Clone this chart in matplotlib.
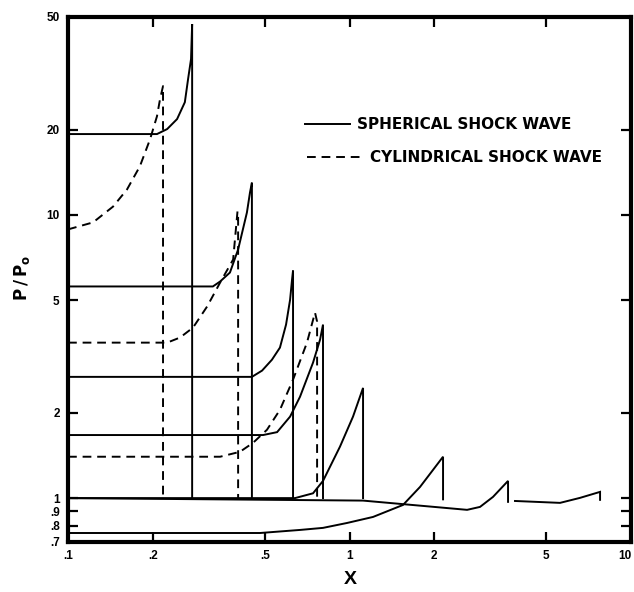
import matplotlib
matplotlib.use('Agg')
import matplotlib.pyplot as plt
from matplotlib.ticker import FixedLocator, FixedFormatter, NullLocator

#
# Spherical shock wave profiles  (X , P/Po)
sph1_x = [0.1, 0.207, 0.225, 0.244, 0.26, 0.267, 0.2735, 0.276, 0.276]
sph1_p = [19.3, 19.3, 20.1, 21.8, 25.0, 30.2, 35.5, 47.2, 1.0]

sph2_x = [0.1, 0.327, 0.347, 0.376, 0.402, 0.432, 0.443, 0.45, 0.45]
sph2_p = [5.59, 5.59, 5.82, 6.26, 7.55, 10.2, 12.0, 13.0, 1.0]

sph3_x = [0.1, 0.45, 0.489, 0.53, 0.566, 0.595, 0.615, 0.625, 0.63, 0.63]
sph3_p = [2.68, 2.68, 2.82, 3.08, 3.40, 4.10, 5.02, 5.92, 6.36, 1.0]

sph4_x = [0.1, 0.493, 0.553, 0.615, 0.667, 0.742, 0.786, 0.805, 0.805]
sph4_p = [1.67, 1.67, 1.71, 1.94, 2.28, 3.01, 3.63, 4.10, 1.0]

sph5_x = [0.1, 0.64, 0.742, 0.805, 0.925, 1.029, 1.117, 1.117]
sph5_p = [1.0, 1.0, 1.04, 1.15, 1.52, 1.94, 2.45, 1.0]

sph6_x = [0.1, 0.481, 0.667, 0.805, 0.98, 1.212, 1.549, 1.78, 1.98, 2.149, 2.149]
sph6_p = [0.753, 0.753, 0.772, 0.785, 0.817, 0.858, 0.946, 1.095, 1.258, 1.40, 0.99]

sph7_x = [0.1, 1.117, 2.149, 2.616, 2.908, 3.234, 3.657, 3.657]
sph7_p = [1.0, 0.98, 0.925, 0.909, 0.931, 1.01, 1.15, 0.97]

sph8_x = [3.871, 5.595, 6.589, 7.763, 7.763]
sph8_p = [0.977, 0.962, 1.002, 1.052, 0.986]

# Cylindrical shock wave profiles
cyl1_x = [0.1, 0.1227, 0.1445, 0.162, 0.18, 0.1956, 0.207, 0.2122, 0.2175, 0.2175]
cyl1_p = [8.89, 9.41, 10.7, 12.3, 14.85, 18.5, 22.3, 25.6, 28.5, 1.0]

cyl2_x = [0.1, 0.225, 0.25, 0.278, 0.312, 0.347, 0.386, 0.4, 0.402, 0.402]
cyl2_p = [3.54, 3.54, 3.69, 4.0, 4.75, 5.77, 6.96, 10.3, 10.0, 1.0]

cyl3_x = [0.1, 0.347, 0.408, 0.454, 0.509, 0.566, 0.63, 0.706, 0.754, 0.767, 0.767]
cyl3_p = [1.40, 1.40, 1.457, 1.567, 1.743, 2.05, 2.62, 3.54, 4.52, 4.2, 1.0]

# Axis ticks
x_ticks = [0.1, 0.2, 0.5, 1, 2, 5, 10]
x_labels = ['.1', '.2', '.5', '1', '2', '5', '10']
y_ticks = [0.7, 0.8, 0.9, 1, 2, 5, 10, 20, 50]
y_labels = ['.7', '.8', '.9', '1', '2', '5', '10', '20', '50']

sph_curves = [(sph1_x, sph1_p), (sph2_x, sph2_p), (sph3_x, sph3_p), (sph4_x, sph4_p),
	(sph5_x, sph5_p), (sph6_x, sph6_p), (sph7_x, sph7_p), (sph8_x, sph8_p)]
cyl_curves = [(cyl1_x, cyl1_p), (cyl2_x, cyl2_p), (cyl3_x, cyl3_p)]

plt.rcParams['font.family'] = ['Liberation Sans', 'DejaVu Sans']
plt.rcParams['font.weight'] = 'bold'

fig = plt.figure(figsize=(6.34, 5.92), dpi=100)
ax = fig.add_axes([0.1073, 0.0845, 0.888, 0.8868])

dash = (0, (4.5, 3))

for cx, cp in sph_curves:
	ax.plot(cx, cp, color='black', lw=1.4, solid_joinstyle='miter')
for cx, cp in cyl_curves:
	ax.plot(cx, cp, color='black', lw=1.4, linestyle=dash)

ax.set_xscale('log')
ax.set_yscale('log')
ax.set_xlim(0.1, 10)
ax.set_ylim(0.7, 50)

ax.xaxis.set_major_locator(FixedLocator(x_ticks))
ax.xaxis.set_major_formatter(FixedFormatter(x_labels))
ax.xaxis.set_minor_locator(NullLocator())
ax.yaxis.set_major_locator(FixedLocator(y_ticks))
ax.yaxis.set_major_formatter(FixedFormatter(y_labels))
ax.yaxis.set_minor_locator(NullLocator())

ax.tick_params(which='major', direction='in', length=7, width=1.6,
	top=True, right=True, labelsize=8.5, pad=6)
for lab in ax.get_xticklabels() + ax.get_yticklabels():
	lab.set_fontweight('bold')

# last x label sits on the figure edge
fig.canvas.draw()
ax.get_xticklabels()[-1].set_horizontalalignment('right')

for s in ax.spines.values():
	s.set_linewidth(3)

# Legend drawn by hand
ax.plot([0.421, 0.501], [0.796, 0.796], transform=ax.transAxes, color='black', lw=1.4)
ax.text(0.513, 0.796, 'SPHERICAL SHOCK WAVE', transform=ax.transAxes, family='DejaVu Sans',
	fontsize=11, fontweight='bold', va='center', ha='left')
ax.plot([0.4245, 0.522], [0.733, 0.733], transform=ax.transAxes, color='black', lw=1.4, linestyle=dash)
ax.text(0.536, 0.733, 'CYLINDRICAL SHOCK WAVE', transform=ax.transAxes, family='DejaVu Sans',
	fontsize=11, fontweight='bold', va='center', ha='left')

# Axis titles
fig.text(350 / 634, 1 - 580 / 592, 'X', fontsize=14, fontweight='bold', ha='center', va='center')
fig.text(22 / 634, 1 - 278 / 592, r'$\mathbf{P\,/\,P_{o}}$', fontsize=12, rotation=90,
	ha='center', va='center')

fig.savefig('out.png', dpi=100)
